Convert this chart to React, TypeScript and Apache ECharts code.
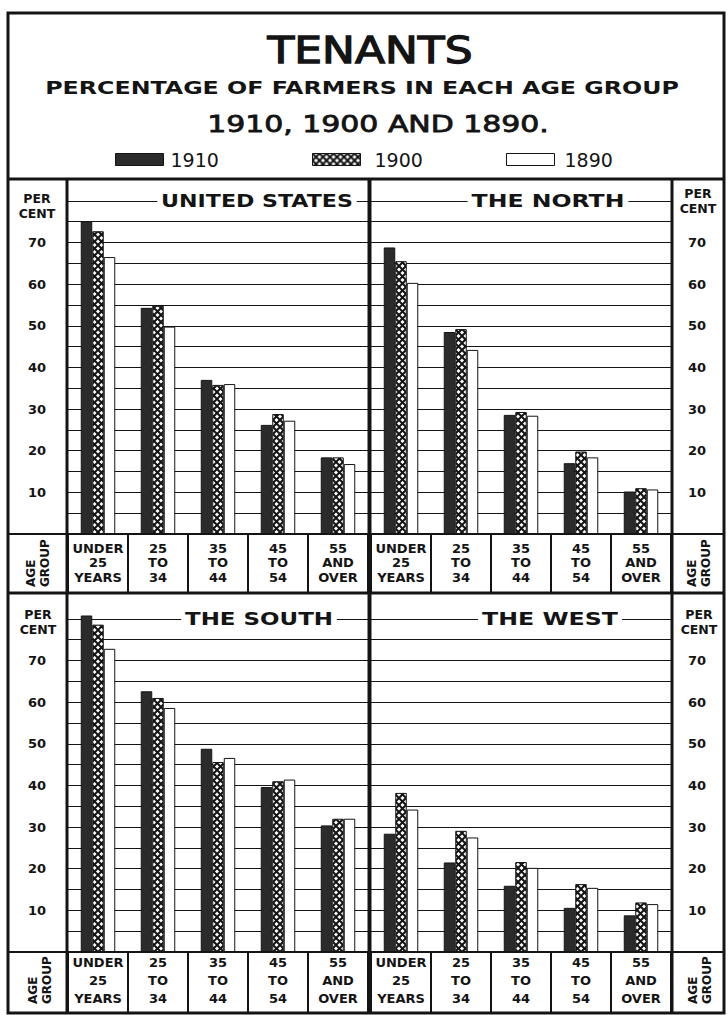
import React, { useEffect, useRef } from "react";
import * as echarts from "echarts";

// ---------- data ----------
const ageGroups = ["UNDER\n25\nYEARS", "25\nTO\n34", "35\nTO\n44", "45\nTO\n54", "55\nAND\nOVER"];
const years = ["1910", "1900", "1890"];
const yTickLabels = [10, 20, 30, 40, 50, 60, 70];
const panelTitles = ["UNITED STATES", "THE NORTH", "THE SOUTH", "THE WEST"];

const us1910 = [75.1, 54.3, 37.0, 26.2, 18.4];
const us1900 = [72.7, 54.8, 35.8, 28.8, 18.4];
const us1890 = [66.5, 49.8, 36.0, 27.2, 16.8];

const north1910 = [68.8, 48.5, 28.6, 17.0, 10.2];
const north1900 = [65.5, 49.2, 29.3, 19.8, 11.0];
const north1890 = [60.3, 44.2, 28.4, 18.4, 10.7];

const south1910 = [80.8, 62.6, 48.8, 39.6, 30.4];
const south1900 = [78.6, 61.0, 45.6, 41.0, 32.0];
const south1890 = [72.8, 58.6, 46.6, 41.4, 32.0];

const west1910 = [28.4, 21.5, 15.9, 10.6, 8.8];
const west1900 = [38.2, 29.1, 21.6, 16.3, 11.9];
const west1890 = [34.2, 27.5, 20.2, 15.4, 11.5];

const panels = [
  [us1910, us1900, us1890],
  [north1910, north1900, north1890],
  [south1910, south1900, south1890],
  [west1910, west1900, west1890],
];

// ---------- layout ----------
const INK = "#141414";
const LBL = "DejaVu Sans";
const gridBoxes = [
  { left: 68, top: 180, width: 300, height: 354 },
  { left: 371, top: 180, width: 300, height: 354 },
  { left: 68, top: 598, width: 300, height: 354 },
  { left: 371, top: 598, width: 300, height: 354 },
];

function makeCrossHatch() {
  const c = document.createElement("canvas");
  c.width = 7;
  c.height = 7;
  const g = c.getContext("2d")!;
  g.fillStyle = "#ffffff";
  g.fillRect(0, 0, 7, 7);
  g.strokeStyle = INK;
  g.lineWidth = 2;
  g.beginPath();
  g.moveTo(-1, -1);
  g.lineTo(8, 8);
  g.moveTo(8, -1);
  g.lineTo(-1, 8);
  g.stroke();
  return c;
}

function measure(text: string, font: string) {
  const ctx = document.createElement("canvas").getContext("2d")!;
  ctx.font = font;
  return ctx.measureText(text).width;
}

function fitText(text: string, font: string, cx: number, cy: number, width: number, extra: any = {}) {
  return {
    type: "text",
    x: cx,
    y: cy,
    z: 30,
    scaleX: width / measure(text, font),
    style: { text, font, fill: INK, align: "center", verticalAlign: "middle", ...extra },
  };
}

function hLine(x1: number, x2: number, y: number, w: number) {
  return { type: "line", z: 40, shape: { x1, y1: y, x2, y2: y }, style: { stroke: INK, lineWidth: w } };
}
function vLine(x: number, y1: number, y2: number, w: number) {
  return { type: "line", z: 40, shape: { x1: x, y1, x2: x, y2 }, style: { stroke: INK, lineWidth: w } };
}

export default function App() {
  const ref = useRef<HTMLDivElement>(null);

  useEffect(() => {
    document.body.style.margin = "0";
    if (!ref.current) return;
    const chart = echarts.init(ref.current, null, { renderer: "svg" });

    const cross = makeCrossHatch();
    const fills: any[] = [
      "#2b2b2b",
      { image: cross, repeat: "repeat", imageWidth: 7, imageHeight: 7 },
      "#ffffff",
    ];

    const series: any[] = [];
    panels.forEach((vals, p) => {
      vals.forEach((d, k) => {
        series.push({
          type: "bar",
          name: years[k],
          xAxisIndex: p,
          yAxisIndex: p,
          data: d,
          barWidth: 11.5,
          barGap: "0%",
          itemStyle: { color: fills[k], borderColor: INK, borderWidth: 1 },
          emphasis: { disabled: true },
        });
      });
    });

    const labelFont = { fontFamily: LBL, fontWeight: "bold" as const, fontSize: 13, color: INK };

    const titleCenters = [
      [257, 201, 192],
      [548, 201, 153],
      [259, 619, 148],
      [550, 619, 136],
    ];

    const perCent = (x: number, y: number) => ({
      type: "text",
      x,
      y,
      z: 30,
      style: { text: "PER\nCENT", font: "bold 12.5px 'DejaVu Sans'", fill: INK, align: "center", verticalAlign: "middle", lineHeight: 15 },
    });

    const graphic: any[] = [
      // title block
      fitText("TENANTS", "38px 'DejaVu Sans'", 370, 50, 205, { stroke: INK, lineWidth: 1.3 }),
      fitText("PERCENTAGE OF FARMERS IN EACH AGE GROUP", "bold 17px 'DejaVu Sans'", 362, 88, 634),
      fitText("1910, 1900 AND 1890.", "23px 'DejaVu Sans'", 378, 124, 342, { stroke: INK, lineWidth: 0.8 }),
      // panel titles
      ...panelTitles.map((t, i) =>
        fitText(t, "bold 18px 'DejaVu Sans'", titleCenters[i][0], titleCenters[i][1], titleCenters[i][2], {
          backgroundColor: "#ffffff",
          padding: [1, 3],
        })
      ),
      // PER CENT labels
      perCent(37, 206),
      perCent(698, 201),
      perCent(38, 622),
      perCent(699, 622),
      // AGE GROUP rotated labels
      ...[
        [38, 587],
        [699, 587],
        [40, 1004],
        [700, 1004],
      ].map(([x, y]) => ({
        type: "text",
        x,
        y,
        z: 30,
        rotation: Math.PI / 2,
        style: { text: "AGE\nGROUP", font: "bold 12px 'DejaVu Sans'", fill: INK, align: "left", verticalAlign: "middle", lineHeight: 14 },
      })),
      // frame
      { type: "rect", z: 40, shape: { x: 8, y: 13, width: 716, height: 1000 }, style: { fill: "none", stroke: INK, lineWidth: 3 } },
      hLine(8, 724, 179, 3),
      hLine(8, 724, 593, 3),
      hLine(8, 724, 534, 2),
      hLine(8, 724, 952, 2),
      vLine(67, 179, 1013, 3),
      vLine(672, 179, 1013, 3),
      vLine(369.5, 179, 1013, 4),
    ];

    const option: any = {
      animation: false,
      backgroundColor: "#ffffff",
      grid: gridBoxes.map((g) => ({ ...g, containLabel: false, outerBoundsMode: "none" })),
      legend: years.map((y, k) => ({
        data: [y],
        left: [115, 312, 506][k],
        top: 150,
        padding: 0,
        itemWidth: 48,
        itemHeight: 12,
        icon: "rect",
        selectedMode: false,
        itemStyle: { borderColor: INK, borderWidth: 1 },
        textStyle: { fontFamily: "DejaVu Sans", fontSize: 19, color: INK, padding: [0, 0, 0, [2, 9, 5][k]] },
      })),
      xAxis: gridBoxes.map((_, i) => ({
        type: "category",
        gridIndex: i,
        data: ageGroups,
        axisLine: { show: true, lineStyle: { color: INK, width: 2 } },
        axisTick: { show: true, interval: 0, length: i < 2 ? 59 : 61, lineStyle: { color: INK, width: 2 } },
        axisLabel: { interval: 0, margin: i < 2 ? 7 : 1, lineHeight: i < 2 ? 14.5 : 18, ...labelFont },
        splitLine: { show: false },
      })),
      yAxis: gridBoxes.map((_, i) => ({
        type: "value",
        gridIndex: i,
        min: 0,
        max: 85,
        interval: 5,
        position: i % 2 === 0 ? "left" : "right",
        axisLine: { show: false },
        axisTick: { show: false },
        axisLabel: {
          formatter: (v: number) => (yTickLabels.includes(v) ? String(v) : ""),
          align: "center",
          margin: i % 2 === 0 ? 31 : 26,
          ...labelFont,
        },
        splitLine: { show: true, showMinLine: false, showMaxLine: false, lineStyle: { color: INK, width: 1.2 } },
      })),
      series,
      graphic,
    };

    chart.setOption(option);
    return () => chart.dispose();
  }, []);

  return <div ref={ref} style={{ width: 728, height: 1015 }} />;
}
